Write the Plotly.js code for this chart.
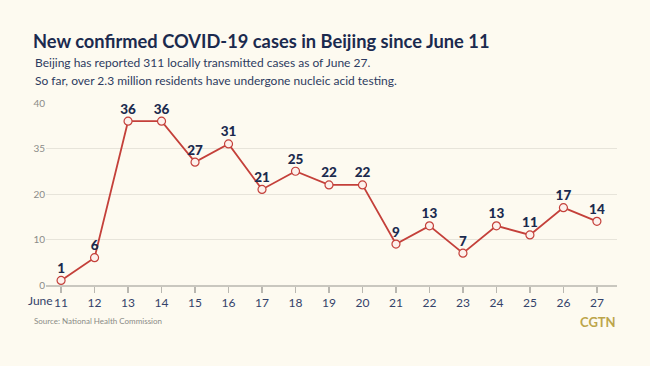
<!DOCTYPE html>
<html>
<head>
<meta charset="utf-8">
<script src="https://cdn.plot.ly/plotly-3.0.1.min.js"></script>
<style>
html,body{margin:0;padding:0;background:#fdfaf0;}
#chart{width:650px;height:366px;}
</style>
</head>
<body>
<div id="chart"></div>
<script>
const days = [11,12,13,14,15,16,17,18,19,20,21,22,23,24,25,26,27];
const dayLabels = ["11","12","13","14","15","16","17","18","19","20","21","22","23","24","25","26","27"];
const cases = [1,6,36,36,27,31,21,25,22,22,9,13,7,13,11,17,14];
const yTickVals = [0,10,20,30,40];
const yTickText = ["0","10","20","35","40"];

const navy = "#1b2a4e";
const lineTrace = {
  x: days,
  y: cases,
  type: "scatter",
  mode: "lines+markers",
  line: {color: "#c4403a", width: 1.8},
  marker: {size: 8, color: "#fdf1ec", line: {color: "#c4403a", width: 1.2}},
  cliponaxis: false,
  hoverinfo: "skip"
};
const labelTrace = {
  x: days,
  y: cases,
  type: "scatter",
  mode: "markers+text",
  text: cases.map(String),
  textposition: "top center",
  textfont: {family: "Lato, sans-serif", size: 13.5, color: navy, weight: 900},
  marker: {size: 5, color: "rgba(0,0,0,0)"},
  cliponaxis: false,
  hoverinfo: "skip"
};

const layout = {
  width: 650, height: 366,
  paper_bgcolor: "#fdfaf0",
  plot_bgcolor: "#fdfaf0",
  margin: {l: 46, r: 33, t: 103, b: 81},
  showlegend: false,
  title: {
    text: "<b>New confirmed COVID-19 cases in Beijing since June 11</b>",
    font: {family: "Lato, sans-serif", size: 18.3, color: navy},
    xref: "container", yref: "container",
    x: 33/650, xanchor: "left",
    y: 1 - 42/366, yanchor: "middle"
  },
  xaxis: {
    range: [10.55, 27.6],
    tickvals: days,
    ticktext: dayLabels,
    showgrid: false,
    zeroline: false,
    showline: true,
    linecolor: "#c9c7bf",
    linewidth: 1.5,
    ticks: "outside",
    ticklen: 6,
    tickwidth: 1.2,
    tickcolor: "#b9b7b0",
    tickfont: {family: "Lato, sans-serif", size: 12, color: "#34426a"},
    fixedrange: true
  },
  yaxis: {
    range: [0, 40],
    tickvals: yTickVals,
    ticktext: yTickText,
    showgrid: true,
    gridcolor: "#e7e4da",
    gridwidth: 1,
    zeroline: false,
    showline: false,
    ticks: "",
    tickfont: {family: "Lato, sans-serif", size: 10, color: "#8b8b88"},
    fixedrange: true
  },
  annotations: [
    {text: "Beijing has reported 311 locally transmitted cases as of June 27.", xref: "paper", yref: "paper",
     x: (33-46)/571, y: (285-63)/182, xanchor: "left", yanchor: "middle", showarrow: false,
     font: {family: "Lato, sans-serif", size: 12, color: "#2d3b60"}},
    {text: "So far, over 2.3 million residents have undergone nucleic acid testing.", xref: "paper", yref: "paper",
     x: (33-46)/571, y: (285-80)/182, xanchor: "left", yanchor: "middle", showarrow: false,
     font: {family: "Lato, sans-serif", size: 12, color: "#2d3b60"}},
    {text: "June", xref: "paper", yref: "paper",
     x: (55-46)/571, y: (285-300)/182, xanchor: "right", yanchor: "middle", showarrow: false,
     font: {family: "Lato, sans-serif", size: 12, color: "#34426a"}},
    {text: "Source: National Health Commission", xref: "paper", yref: "paper",
     x: (32-46)/571, y: (285-321)/182, xanchor: "left", yanchor: "middle", showarrow: false,
     font: {family: "Lato, sans-serif", size: 8, color: "#8a8a86"}},
    {text: "<b>CGTN</b>", xref: "paper", yref: "paper",
     x: (618-46)/571, y: (285-322)/182, xanchor: "right", yanchor: "middle", showarrow: false,
     font: {family: "Lato, sans-serif", size: 13, color: "#bca54a"}}
  ]
};

Plotly.newPlot("chart", [lineTrace, labelTrace], layout, {displayModeBar: false, staticPlot: true});
</script>
</body>
</html>
